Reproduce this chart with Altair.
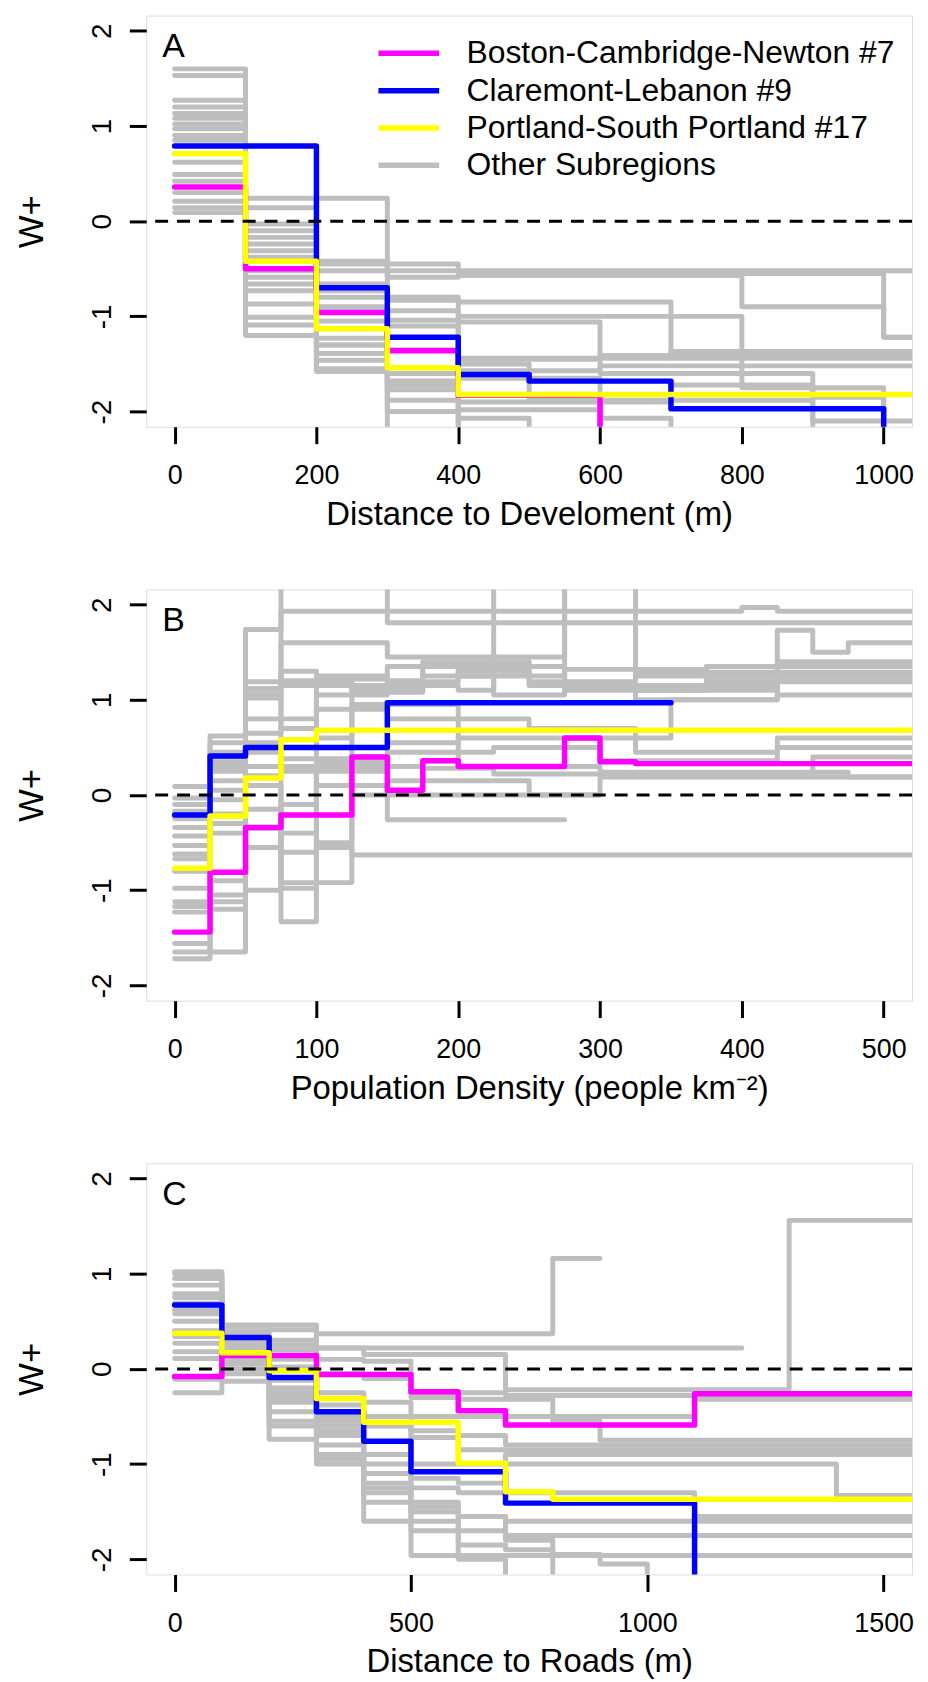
import altair as alt
import pandas as pd

FONT = "Liberation Sans, Arial, Helvetica, sans-serif"

NAMES = ["Boston-Cambridge-Newton #7", "Claremont-Lebanon #9",
         "Portland-South Portland #17", "Other Subregions"]
COLORS = ["#FF00FF", "#0000FF", "#FFFF00", "#BEBEBE"]

Y_TICKS = [-2, -1, 0, 1, 2]
Y_DOMAIN = [-2.16, 2.16]

# ---------------- Panel A : distance to development (steps of 100 m)
A_STEP = 100
A_DOMAIN = [-40, 1040]
A_TICKS = [0, 200, 400, 600, 800, 1000]
A_TITLE = "Distance to Develoment (m)"
A_BOSTON = [0.36, -0.50, -0.96, -1.36, -1.83, -1.83]
A_BOSTON_END = (600, True)
A_CLAREMONT = [0.79, 0.79, -0.70, -1.22, -1.61, -1.68, -1.68, -1.97, -1.97, -1.97]
A_CLAREMONT_END = (1000, True)
A_PORTLAND = [0.71, -0.42, -1.13, -1.54, -1.82, -1.82, -1.82, -1.82, -1.82, -1.82, -1.82]
A_PORTLAND_END = (1040, False)
A_GRAY = [
    [1.60, -0.03, -0.42, -0.52, -0.52, -0.52, -0.52, -0.52, -0.52, -0.52, -0.52],
    [1.53, -0.10, -0.52, -0.59, -0.57, -0.57, -0.57, -0.57, -0.90, -0.90, -1.22],
    [1.27, -0.17, -0.66, -0.83, -0.85, -0.85, -0.85, -1.44, -1.44, -1.44, -1.44],
    [1.20, -0.24, -0.73, -0.94, -1.06, -1.06, -1.41, -1.41, -1.41, -1.41, -1.41],
    [1.13, -0.31, -0.80, -1.04, -1.44, -1.44, -1.44, -1.37, -1.37, -1.37, -1.37],
    [1.08, -0.38, -0.90, -1.60, -1.57, -1.57, -1.52, -1.52, -1.52, -1.52, -1.52],
    [1.02, -0.59, -1.23, -1.68, -1.90, -1.90, -1.90, -1.72, -1.72],
    [0.97, -0.66, -1.30, -1.77, -1.98, -1.98, -2.07],
    [0.90, -0.73, -1.39, -1.88, -2.07],
    [0.85, -0.87, -1.46, -1.60, -1.65, -1.65],
    [0.62, -1.01, -1.58],
    [0.49, -1.09, -1.30, -1.72],
    [0.42, -1.20, -1.55, -2.00],
    [0.30, 0.24, 0.24, -0.45, -0.55, -0.55, -0.55, -0.55, -0.55, -0.55, -1.22],
    [0.21, 0.14, -0.45, -0.80, -1.00, -1.00, -1.00, -1.00, -1.75, -1.75],
    [0.14, -0.40, -0.95, -1.10, -1.45, -1.45, -1.60, -1.60, -1.60, -1.85],
    [0.09, -0.52, -1.05, -1.35, -1.50, -1.88, -1.88, -1.88, -1.88, -2.10],
]
A_GRAY_END = [(1040, False), (1040, False), (1040, False), (1040, False),
              (1040, False), (1040, False), (900, True), (700, True),
              (500, True), (600, True), (300, True), (400, True), (400, True),
              (1040, False), (1000, True), (1000, True), (1040, False)]

# ---------------- Panel B : population density (steps of 25 people/km2)
B_STEP = 25
B_DOMAIN = [-20, 520]
B_TICKS = [0, 100, 200, 300, 400, 500]
B_TITLE = "Population Density (people km\u207b\u00b2)"
B_BOSTON = [-1.44, -0.81, -0.34, -0.21, -0.21, 0.40, 0.05, 0.36, 0.30, 0.30,
            0.30, 0.60, 0.35, 0.33, 0.33, 0.33, 0.33, 0.33, 0.33, 0.33]
B_BOSTON_END = (520, False)
B_CLAREMONT = [-0.21, 0.41, 0.50, 0.50, 0.50, 0.50, 0.97, 0.97, 0.97, 0.97,
               0.97, 0.97, 0.97, 0.97]
B_CLAREMONT_END = (350, False)
B_PORTLAND = [-0.77, -0.22, 0.18, 0.58, 0.68, 0.68, 0.68, 0.68, 0.68, 0.68,
              0.68, 0.68, 0.68, 0.68, 0.68, 0.68, 0.68, 0.68, 0.68, 0.68]
B_PORTLAND_END = (520, False)
B_GRAY = [
    [0.09, 0.62, 1.74, 2.5, 2.5, 2.5, 1.81, 1.81, 1.81, 1.81, 1.81, 1.81, 1.81, 1.81, 1.81, 1.81, 1.81, 1.81, 1.81, 1.81],
    [-0.03, 0.55, 1.19, 1.60, 1.60, 1.60, 1.45, 1.45, 1.45, 1.45, 1.45, 2.5, 2.5, 1.29, 1.29, 1.29, 1.29, 1.29, 1.29, 1.29],
    [-0.10, 0.45, 1.12, 1.93, 1.93, 1.93, 1.93, 1.93, 1.93, 1.93, 1.93, 1.93, 1.93, 1.93, 1.93, 1.93, 1.97, 1.93, 1.93, 1.93],
    [-0.17, 0.35, 1.05, 0.70, 1.22, 1.22, 1.19, 1.19, 1.30, 1.30, 1.19, 1.19, 1.19, 1.00, 1.00, 1.00, 1.00, 1.19, 1.19, 1.19],
    [-0.34, 0.25, 0.65, 1.30, 1.25, 1.25, 1.20, 1.35, 1.35, 1.35, 1.35, 1.10, 1.10, 1.10, 1.10, 1.10, 1.10, 1.73, 1.50, 1.60],
    [-0.43, 0.15, 0.55, 0.70, 1.05, 1.05, 1.15, 1.15, 1.10, 2.5, 2.5, 2.5, 2.5, 1.10, 1.10, 1.35, 1.35, 1.35, 1.35, 1.35],
    [-0.53, 0.05, 0.45, 0.38, 0.38, 0.95, 0.95, 0.95, 0.30, 0.30, 0.30, 0.30, 0.24, 0.24, 0.24, 0.24, 0.24, 0.24, 0.24, 0.19],
    [-0.62, -0.05, 0.30, 0.30, -0.55, -0.63, -0.63, -0.63, -0.63, -0.63, -0.63, -0.63, -0.63, -0.63, -0.63, -0.63, -0.63, -0.63, -0.63, -0.63],
    [-0.67, -0.20, 0.10, -0.92, -0.92, 0.00, 0.00, 0.00, 0.00, 0.00, 0.00, 0.00, 0.19, 0.19, 0.19, 0.19, 0.19, 0.19, 0.19, 0.19],
    [-0.98, -0.30, -0.15, -1.33, 0.10, 0.10, -0.26, -0.26, -0.26, -0.26, -0.26],
    [-1.12, -0.40, 0.20, -0.98, -0.50, 0.40, 0.45, 0.45, 0.45, 0.50, 0.50, 0.50, 0.36, 0.36, 0.36, 0.36, 0.36, 0.50, 0.50, 0.50],
    [-1.17, -1.05, 0.20, 0.25, 0.30, 0.30, 0.30, 0.28, 0.28, 0.22, 0.22, 0.22, 0.22, 0.22, 0.22, 0.22, 0.22, 0.22, 0.40, 0.40],
    [-1.23, -1.12, -0.35, -0.40, 0.25, 0.25, 0.55, 0.55, 0.60, 0.60, 0.60, 0.60, 0.60, 0.60, 1.00, 1.00, 1.00, 1.05, 1.05, 1.05],
    [-1.56, -1.65, -1.00, -0.10, 0.60, 1.15, 1.35, 1.35, 1.25, 1.25, 1.25, 2.5, 2.5, 1.25, 1.25, 1.25, 1.25, 1.25, 1.25, 1.25],
    [-1.65, -1.20, -0.55, -0.60, 0.35, 0.35, 0.15, 0.15, 0.15, 0.15, 0.00, 0.00],
    [-1.72, -0.90, 0.80, 0.80, 0.90, 0.90, 0.80, 0.80, 0.80, 0.80, 0.70, 0.70, 0.70, 0.45, 0.45, 0.45, 0.45, 0.60, 0.60, 0.60],
    [-0.25, 0.40, 1.10, 1.15, 1.15, 1.12, 1.12, 1.40, 1.40, 1.40, 1.15, 1.15, 1.15, 1.15, 1.15, 1.15, 1.15, 1.40, 1.40, 1.40],
    [-0.80, 0.30, 1.02, 1.20, 1.20, 1.08, 1.08, 1.25, 1.25, 1.05, 1.05, 1.32, 1.32, 1.32, 1.32, 1.20, 1.20, 1.20, 1.20, 1.20],
]
B_GRAY_END = ([(520, False)] * 9 + [(275, False)] + [(520, False)] * 4
              + [(300, False), (520, False), (520, False), (520, False)])

# ---------------- Panel C : distance to roads (steps of 100 m)
C_STEP = 100
C_DOMAIN = [-60, 1560]
C_TICKS = [0, 500, 1000, 1500]
C_TITLE = "Distance to Roads (m)"
C_BOSTON = [-0.08, 0.14, 0.14, -0.06, -0.06, -0.24, -0.44, -0.59, -0.59, -0.59,
            -0.59, -0.26, -0.26, -0.26, -0.26, -0.26]
C_BOSTON_END = (1560, False)
C_CLAREMONT = [0.67, 0.33, -0.09, -0.45, -0.76, -1.08, -1.08, -1.41, -1.41, -1.41, -1.41]
C_CLAREMONT_END = (1100, True)
C_PORTLAND = [0.375, 0.17, -0.02, -0.31, -0.56, -0.56, -0.99, -1.29, -1.37, -1.37,
              -1.37, -1.37, -1.37, -1.37, -1.37, -1.37]
C_PORTLAND_END = (1560, False)
C_GRAY = [
    [1.02, 0.46, 0.46, 0.37, 0.37, 0.37, 0.37, 0.37, 1.16],
    [1.00, 0.40, 0.41, 0.22, 0.22, 0.22, 0.22, 0.22, 0.22, 0.22, 0.22, 0.22],
    [0.88, 0.35, 0.30, 0.22, 0.15, 0.15, 0.15, -0.22, -0.22, -0.22, -0.22, -0.22, -0.22, 1.56, 1.56, 1.56],
    [0.79, 0.30, 0.25, 0.10, 0.08, -0.25, -0.25, -0.28, -0.28, -0.28, -0.28, -0.28, -0.28, -0.28, -0.28, -0.28],
    [0.69, 0.25, 0.20, -0.05, -0.10, -0.30, -0.32, -0.32, -0.50, -0.50, -0.50, -0.32, -0.32, -0.32, -0.32, -0.32],
    [0.58, 0.20, 0.10, -0.25, -0.35, -0.50, -0.50, -0.50, -0.55, -0.75, -0.75, -0.75, -0.75, -0.75, -0.75, -0.75],
    [0.50, 0.15, 0.02, -0.38, -0.50, -0.65, -0.70, -0.80, -0.80, -0.80, -0.80, -0.80, -0.80, -0.80, -0.80, -0.80],
    [0.34, 0.10, -0.12, -0.45, -0.60, -0.72, -0.85, -0.85, -0.85, -0.85, -0.85, -0.85, -0.85, -0.85, -0.85, -0.85],
    [0.27, 0.06, -0.25, -0.50, -0.90, -1.00, -1.00, -1.00, -1.00, -1.00, -1.00, -1.00, -1.00, -1.00, -1.33, -1.33],
    [0.18, -0.13, -0.45, -0.60, -1.00, -1.15, -1.20, -0.90, -0.90, -0.90, -0.90, -0.90, -0.90, -0.90, -0.90, -0.90],
    [0.11, 0.00, -0.74, -1.00, -1.20, -1.25, -1.30, -1.30, -1.30, -1.30, -1.30, -1.55, -1.55, -1.55, -1.55, -1.55],
    [-0.11, -0.05, -0.35, -0.70, -1.60, -1.96, -1.96, -1.96, -1.96, -1.96, -1.96, -1.96, -1.96, -1.96, -1.96, -1.96],
    [-0.25, 0.05, -0.60, -0.90, -1.25, -1.45, -1.55, -1.60, -1.60, -1.60, -1.60, -1.60, -1.60, -1.60, -1.60, -1.60],
    [0.40, 0.28, -0.55, -0.95, -1.30, -1.50, -1.70, -1.75, -1.75, -1.75, -1.75, -1.75, -1.75, -1.75, -1.75, -1.75],
    [0.62, 0.22, -0.30, -0.80, -1.10, -1.60, -1.85, -1.90, -1.95, -2.05],
    [0.75, 0.33, -0.20, -0.65, -1.40, -1.70, -2.00],
    [0.95, 0.45, 0.00, -0.55, -0.58, -1.40, -1.55, -1.80],
]
C_GRAY_END = [(900, False), (1200, False)] + [(1560, False)] * 12 + [(1000, True), (700, True), (800, True)]

W, H = 770, 413.5
GRAY_W, COL_W = 5, 5.5


def rows(values, step, end, sid, name):
    end_x, drop = end
    out = [{"x": i * step, "y": v, "sid": sid, "name": name} for i, v in enumerate(values)]
    out.append({"x": end_x, "y": -3.0 if drop else values[-1], "sid": sid, "name": name})
    return out


def panel(letter, step, domain, ticks, xtitle, gray, gray_end, colored, show_legend):
    xs = alt.Scale(domain=domain, nice=False, zero=False)
    ys = alt.Scale(domain=Y_DOMAIN, nice=False, zero=False)
    cs = alt.Scale(domain=NAMES, range=COLORS)
    xaxis = alt.Axis(values=ticks, title=xtitle, grid=False, domain=False,
                     tickSize=17, tickWidth=3, tickColor="black",
                     labelFont=FONT, labelFontSize=27, labelColor="black",
                     labelPadding=19, labelBaseline="top", labelFlush=False,
                     labelOverlap=False, labelExpr="'' + datum.value",
                     titleFont=FONT, titleFontSize=33, titleFontWeight="normal",
                     titleColor="black", titleX=W / 2, titleY=98,
                     titleBaseline="alphabetic", titleAlign="center")
    yaxis = alt.Axis(values=Y_TICKS, title="W+", grid=False, domain=False,
                     tickSize=17, tickWidth=3, tickColor="black",
                     labelFont=FONT, labelFontSize=28, labelColor="black",
                     labelAngle=270, labelAlign="center", labelBaseline="alphabetic",
                     labelPadding=19, labelFlush=False, labelOverlap=False,
                     labelExpr="'' + datum.value",
                     titleFont=FONT, titleFontSize=35, titleFontWeight="normal",
                     titleColor="black", titleAngle=270, titleX=-104, titleY=H / 2,
                     titleBaseline="alphabetic", titleAlign="center")
    if show_legend:
        legend = alt.Legend(title=None, orient="none", legendX=247, legendY=21,
                            symbolType="M-2.18,0H2.18", symbolSize=784,
                            symbolStrokeWidth=5.5, labelFont=FONT, labelFontSize=32,
                            labelColor="black", labelOffset=41, labelLimit=900,
                            rowPadding=4.5, padding=0, direction="vertical")
    else:
        legend = None

    grows = []
    for i, (vals, end) in enumerate(zip(gray, gray_end)):
        grows += rows(vals, step, end, i, NAMES[3])
    layers = [
        alt.Chart(pd.DataFrame(grows)).mark_line(
            interpolate="step-after", strokeWidth=GRAY_W, clip=True,
            strokeCap="round", strokeJoin="round").encode(
            x=alt.X("x:Q", scale=xs, axis=xaxis),
            y=alt.Y("y:Q", scale=ys, axis=yaxis),
            color=alt.Color("name:N", scale=cs, legend=legend),
            detail="sid:N")
    ]
    for j, (vals, end) in enumerate(colored):
        df = pd.DataFrame(rows(vals, step, end, 100 + j, NAMES[j]))
        layers.append(
            alt.Chart(df).mark_line(
                interpolate="step-after", strokeWidth=COL_W, clip=True,
                strokeCap="round", strokeJoin="round").encode(
                x=alt.X("x:Q", scale=xs, axis=xaxis),
                y=alt.Y("y:Q", scale=ys, axis=yaxis),
                color=alt.Color("name:N", scale=cs, legend=legend)))
    layers.append(
        alt.Chart(pd.DataFrame({"z": [0]})).mark_rule(
            color="black", strokeWidth=3, strokeDash=[13, 9]).encode(
            y=alt.Y("z:Q", scale=ys, axis=yaxis)))
    layers.append(
        alt.Chart(pd.DataFrame({"t": [letter]})).mark_text(
            align="left", baseline="alphabetic", font=FONT, fontSize=34,
            color="black").encode(text="t:N", x=alt.value(16), y=alt.value(42)))
    return alt.layer(*layers).properties(width=W, height=H)


pa = panel("A", A_STEP, A_DOMAIN, A_TICKS, A_TITLE, A_GRAY, A_GRAY_END,
           [(A_BOSTON, A_BOSTON_END), (A_CLAREMONT, A_CLAREMONT_END),
            (A_PORTLAND, A_PORTLAND_END)], True)
pb = panel("B", B_STEP, B_DOMAIN, B_TICKS, B_TITLE, B_GRAY, B_GRAY_END,
           [(B_BOSTON, B_BOSTON_END), (B_CLAREMONT, B_CLAREMONT_END),
            (B_PORTLAND, B_PORTLAND_END)], False)
pc = panel("C", C_STEP, C_DOMAIN, C_TICKS, C_TITLE, C_GRAY, C_GRAY_END,
           [(C_BOSTON, C_BOSTON_END), (C_CLAREMONT, C_CLAREMONT_END),
            (C_PORTLAND, C_PORTLAND_END)], False)

chart = alt.vconcat(pa, pb, pc, spacing=57).resolve_scale(
    color="independent").properties(
    padding={"left": 6, "top": 2, "right": 5, "bottom": 2}
).configure_view(stroke="black", strokeWidth=3).configure(background="white")

chart.save("out.html", embed_options={"renderer": "svg", "actions": False})
